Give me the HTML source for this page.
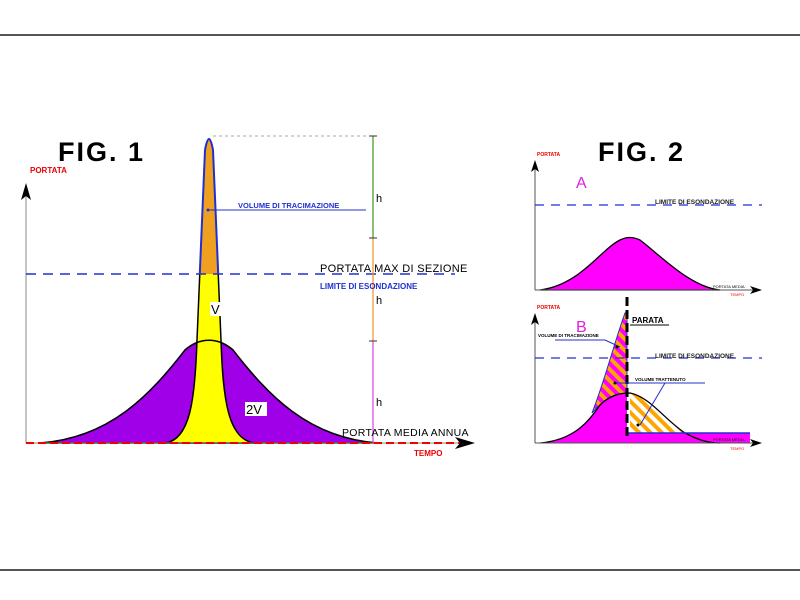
<!DOCTYPE html>
<html><head><meta charset="utf-8"><style>body{margin:0;background:#fff}svg{display:block}text{font-family:"Liberation Sans",sans-serif}</style></head><body>
<svg width="800" height="600" viewBox="0 0 800 600">
<defs>
<clipPath id="top"><rect x="0" y="0" width="800" height="274"/></clipPath>
<clipPath id="bot"><rect x="0" y="274" width="800" height="300"/></clipPath>
<pattern id="hatch" width="8" height="8" patternUnits="userSpaceOnUse" patternTransform="rotate(-45)"><rect width="8" height="8" fill="#ff00ff"/><rect width="4" height="8" fill="#ffa500"/></pattern>
<pattern id="hatch2" width="8" height="8" patternUnits="userSpaceOnUse" patternTransform="rotate(-45)"><rect width="8" height="8" fill="#fff"/><rect width="4" height="8" fill="#ffa500"/></pattern>
</defs>
<line x1="0" y1="35" x2="800" y2="35" stroke="#555" stroke-width="2"/>
<line x1="0" y1="570" x2="800" y2="570" stroke="#555" stroke-width="2"/>
<!-- FIG 1 -->
<text x="58" y="161" font-size="27" font-weight="bold" letter-spacing="2">FIG. 1</text>
<text x="30" y="173" font-size="8" fill="#e00" font-weight="bold">PORTATA</text>
<path d="M40,443 C110,438 150,395 185,350 C200,337 218,337 233,350 C268,395 308,438 378,443 Z" fill="#a000e8" stroke="#000" stroke-width="1.5"/>
<path d="M165,443 C190,440 195,400 197,340 L205,150 Q209,128 213,150 L221,340 C223,400 228,440 255,443 Z" fill="#ffff00" stroke="#000" stroke-width="1.5" clip-path="url(#bot)"/>
<path d="M165,443 C190,440 195,400 197,340 L205,150 Q209,128 213,150 L221,340 C223,400 228,440 255,443 Z" fill="#f0a020" stroke="#2030d0" stroke-width="2" clip-path="url(#top)"/>
<path d="M185,350 C200,337 218,337 233,350" fill="none" stroke="#000" stroke-width="1.5"/>
<line x1="26" y1="195" x2="26" y2="443" stroke="#888" stroke-width="1"/>
<path d="M26,183 L21,200 L26,196 L31,200 Z" fill="#000"/>
<line x1="26" y1="443" x2="460" y2="443" stroke="#888"/>
<line x1="26" y1="443" x2="460" y2="443" stroke="#e00" stroke-width="2" stroke-dasharray="8,4"/>
<path d="M475,443 L455,437 L460,443 L455,449 Z" fill="#000"/>
<line x1="26" y1="274" x2="455" y2="274" stroke="#2030d0" stroke-width="1.5" stroke-dasharray="10,7"/>
<line x1="213" y1="136" x2="373" y2="136" stroke="#aaa" stroke-dasharray="3,3"/>
<line x1="373" y1="136" x2="373" y2="238" stroke="#3a9a20" stroke-width="1.2"/>
<line x1="373" y1="238" x2="373" y2="341" stroke="#f09020" stroke-width="1.2"/>
<line x1="373" y1="341" x2="373" y2="443" stroke="#e040e0" stroke-width="1.2"/>
<g stroke="#333"><line x1="369" y1="136" x2="377" y2="136"/><line x1="369" y1="238" x2="377" y2="238"/><line x1="369" y1="341" x2="377" y2="341"/></g>
<g font-size="11"><text x="376" y="202">h</text><text x="376" y="304">h</text><text x="376" y="406">h</text></g>
<line x1="208" y1="210" x2="366" y2="210" stroke="#2030d0"/>
<circle cx="208" cy="210" r="1.5" fill="#2030d0"/>
<text x="238" y="208" font-size="7.5" fill="#2030d0" font-weight="bold">VOLUME DI TRACIMAZIONE</text>
<text x="320" y="272" font-size="11" letter-spacing="0.3">PORTATA MAX DI SEZIONE</text>
<text x="320" y="289" font-size="8" fill="#2030d0" font-weight="bold">LIMITE DI ESONDAZIONE</text>
<text x="342" y="436" font-size="10.5" letter-spacing="0.3">PORTATA MEDIA ANNUA</text>
<text x="414" y="456" font-size="8" fill="#e00" font-weight="bold">TEMPO</text>
<rect x="210" y="302" width="11" height="14" fill="#fff"/><text x="211" y="314" font-size="13">V</text>
<rect x="245" y="402" width="22" height="14" fill="#fff"/><text x="246" y="414" font-size="13">2V</text>
<!-- FIG 2 -->
<text x="598" y="161" font-size="27" font-weight="bold" letter-spacing="2">FIG. 2</text>
<text x="537" y="156" font-size="5" fill="#e00" font-weight="bold">PORTATA</text>
<line x1="535" y1="168" x2="535" y2="290" stroke="#555"/>
<path d="M535,160 L531,172 L535,169 L539,172 Z" fill="#000"/>
<path d="M540,290 C580,285 600,250 620,240 Q630,235 640,240 C660,255 690,287 720,290 Z" fill="#ff00ff" stroke="#000" stroke-width="1.3"/>
<line x1="535" y1="290" x2="755" y2="290" stroke="#555"/>
<path d="M762,290 L750,286 L753,290 L750,294 Z" fill="#000"/>
<text x="730" y="296" font-size="4" fill="#e00">TEMPO</text>
<text x="713" y="288" font-size="4">PORTATA MEDIA</text>
<text x="576" y="188" font-size="16" fill="#e020e0">A</text>
<line x1="535" y1="205" x2="762" y2="205" stroke="#2030d0" stroke-width="1.3" stroke-dasharray="9,7"/>
<text x="655" y="204" font-size="6.5" font-weight="bold" fill="#222">LIMITE DI ESONDAZIONE</text>
<!-- B -->
<text x="537" y="309" font-size="5" fill="#e00" font-weight="bold">PORTATA</text>
<line x1="535" y1="322" x2="535" y2="443" stroke="#555"/>
<path d="M535,313 L531,325 L535,322 L539,325 Z" fill="#000"/>
<path d="M540,443 C575,440 590,420 600,405 C610,395 620,393 627,393 L627,433 L750,433 L750,443 Z" fill="#ff00ff"/>
<path d="M592,413 C605,380 615,340 625,313 L627,313 L627,393 C618,393 605,398 592,413 Z" fill="url(#hatch)" stroke="#2030d0" stroke-width="1"/>
<path d="M630,393 C650,397 665,420 685,433 L630,433 Z" fill="url(#hatch2)"/>
<path d="M540,443 C575,440 590,420 600,405 C610,395 620,393 630,393 C650,397 665,420 685,433 C700,441 710,443 720,443" fill="none" stroke="#000" stroke-width="1.3"/>
<line x1="627" y1="433" x2="750" y2="433" stroke="#2030d0" stroke-width="1.5"/>
<line x1="627" y1="297" x2="627" y2="437" stroke="#000" stroke-width="3" stroke-dasharray="9,4"/>
<line x1="535" y1="443" x2="755" y2="443" stroke="#555"/>
<path d="M762,443 L750,439 L753,443 L750,447 Z" fill="#000"/>
<text x="730" y="450" font-size="4" fill="#e00">TEMPO</text>
<text x="713" y="441" font-size="4">PORTATA MEDIA</text>
<text x="576" y="332" font-size="16" fill="#e020e0">B</text>
<line x1="535" y1="358" x2="762" y2="358" stroke="#2030d0" stroke-width="1.3" stroke-dasharray="9,7"/>
<text x="655" y="358" font-size="6.5" font-weight="bold" fill="#222">LIMITE DI ESONDAZIONE</text>
<text x="632" y="323" font-size="8" font-weight="bold">PARATA</text>
<line x1="630" y1="325" x2="669" y2="325" stroke="#000"/>
<text x="538" y="337" font-size="4.5" font-weight="bold">VOLUME DI TRACIMAZIONE</text>
<polyline points="555,340 605,340 620,347" fill="none" stroke="#2030d0"/>
<text x="635" y="381" font-size="4.5" font-weight="bold">VOLUME TRATTENUTO</text>
<line x1="615" y1="383" x2="705" y2="383" stroke="#2030d0"/>
<line x1="665" y1="383" x2="640" y2="425" stroke="#2030d0"/>
<circle cx="617" cy="347" r="1.5" fill="#000"/><circle cx="615" cy="383" r="1.5" fill="#000"/><circle cx="638" cy="425" r="1.5" fill="#000"/>
</svg>
</body></html>
